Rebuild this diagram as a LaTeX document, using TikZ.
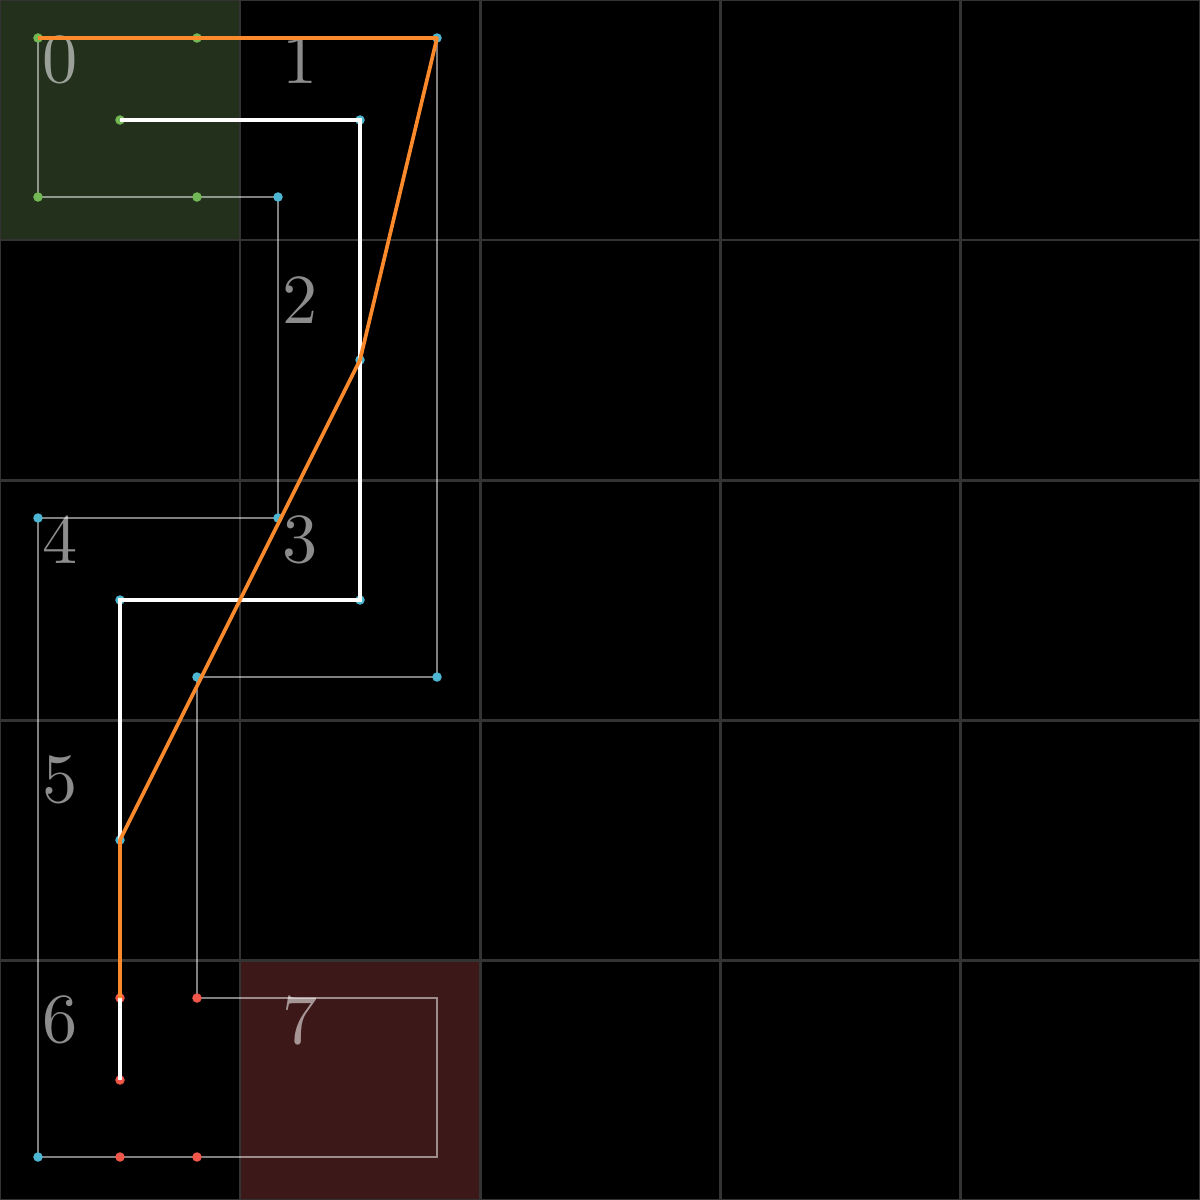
\documentclass[tikz,border=0pt]{standalone}
\usepackage{fontspec}
\newfontfamily\lmten{lmroman10-regular.otf}
\begin{document}
\begin{tikzpicture}[x=0.01cm,y=-0.01cm,
  gridline/.style={draw=white!20!black,line width=0.85pt},
  grayline/.style={draw=white,draw opacity=0.5,line width=0.6pt,line join=miter},
  whiteline/.style={draw=white,line width=0.95pt},
  orangeline/.style={draw=orangeC,line width=1.05pt,line join=round},
  dot/.style={circle,inner sep=0pt,minimum size=0.095cm,fill=#1},
  lbl/.style={text=white,text opacity=0.55,inner sep=0pt,font=\lmten\fontsize{20}{20}\selectfont}]
\definecolor{orangeC}{HTML}{FA8A2C}
\definecolor{greenD}{HTML}{72B955}
\definecolor{cyanD}{HTML}{4DB6D2}
\definecolor{redD}{HTML}{F0564A}
\definecolor{greenF}{HTML}{22301C}
\definecolor{redF}{HTML}{3D1818}
\useasboundingbox (0,0) rectangle (1200,1200);
\fill[black] (0,0) rectangle (1200,1200);
\fill[greenF] (0,0) rectangle (240,240);
\fill[redF] (240,960) rectangle (480,1200);
\foreach \v in {0,240,480,720,960,1200} {
  \draw[gridline] (\v,0) -- (\v,1200);
  \draw[gridline] (0,\v) -- (1200,\v);
}
% labels
\node[lbl] (l0) at (60,60) {0};
\node[lbl] (l1) at (300,60) {1};
\node[lbl] (l2) at (300,300) {2};
\node[lbl] (l3) at (300,540) {3};
\node[lbl] (l4) at (60,540) {4};
\node[lbl] (l5) at (60,780) {5};
\node[lbl] (l6) at (60,1020) {6};
\node[lbl] (l7) at (300,1020) {7};
% gray path points
\coordinate (g1) at (38,38);
\coordinate (g2) at (38,197);
\coordinate (g3) at (197,197);
\coordinate (g4) at (278,197);
\coordinate (g5) at (278,518);
\coordinate (g6) at (38,518);
\coordinate (g7) at (38,1157);
\coordinate (g8) at (120,1157);
\coordinate (g9) at (197,1157);
\coordinate (g10) at (437,1157);
\coordinate (g11) at (437,998);
\coordinate (g12) at (197,998);
\coordinate (g13) at (197,677);
\coordinate (g14) at (437,677);
\coordinate (g15) at (437,38);
\coordinate (g16) at (197,38);
\draw[grayline] (g1) -- (g2) -- (g3) -- (g4) -- (g5) -- (g6) -- (g7) -- (g8) -- (g9) -- (g10) -- (g11) -- (g12) -- (g13) -- (g14) -- (g15) -- (g16) -- (g1);
% white path points
\coordinate (w1) at (120,120);
\coordinate (w2) at (360,120);
\coordinate (w3) at (360,360);
\coordinate (w4) at (360,600);
\coordinate (w5) at (120,600);
\coordinate (w6) at (120,840);
\coordinate (w7) at (120,998);
\coordinate (w8) at (120,1080);
% dots
\foreach \p in {g1,g2,g3,g16,w1} \node[dot=greenD] at (\p) {};
\foreach \p in {g4,g5,g6,g7,g13,g14,g15,w2,w3,w4,w5,w6} \node[dot=cyanD] at (\p) {};
\foreach \p in {g8,g9,g12,w7,w8} \node[dot=redD] at (\p) {};
\draw[whiteline] (w1) -- (w2) -- (w3) -- (w4) -- (w5) -- (w6) -- (w7) -- (w8);
\draw[orangeline] (g1) -- (g15) -- (w3) -- (w6) -- (w7);
\end{tikzpicture}
\end{document}
